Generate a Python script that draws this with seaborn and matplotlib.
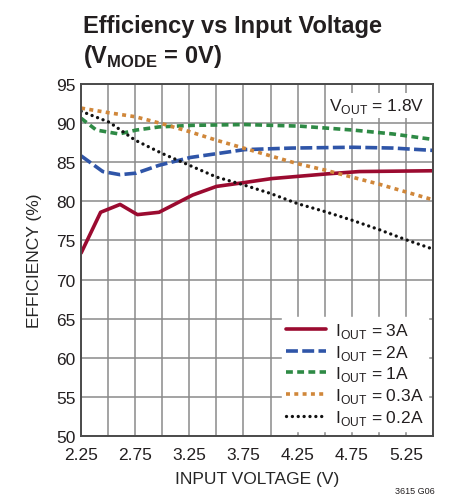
import numpy as np
import pandas as pd
import matplotlib
matplotlib.use("Agg")
import matplotlib.pyplot as plt
import seaborn as sns

# ---------------------------------------------------------
# DADOS
# ---------------------------------------------------------
vin_3a = [2.25, 2.43, 2.61, 2.77, 2.97, 3.28, 3.50, 3.76, 4.01, 4.52, 4.82, 5.50]
eff_3a = [73.4, 78.6, 79.6, 78.3, 78.6, 80.8, 81.9, 82.4, 82.9, 83.5, 83.8, 83.9]

vin_2a = [2.25, 2.45, 2.61, 2.76, 2.97, 3.26, 3.51, 3.76, 4.20, 4.76, 5.13, 5.50]
eff_2a = [85.8, 83.8, 83.4, 83.6, 84.6, 85.6, 86.1, 86.6, 86.8, 86.9, 86.8, 86.5]

vin_1a = [2.25, 2.39, 2.60, 2.76, 2.97, 3.28, 3.76, 4.27, 4.76, 5.13, 5.50]
eff_1a = [90.6, 89.1, 88.6, 89.1, 89.5, 89.7, 89.8, 89.6, 89.1, 88.6, 87.9]

vin_03a = [2.25, 2.51, 2.75, 3.00, 3.25, 3.50, 3.75, 4.00, 4.25, 4.50, 4.75, 5.00, 5.25, 5.50]
eff_03a = [91.9, 91.3, 90.8, 89.9, 88.9, 87.8, 86.8, 85.8, 84.8, 84.0, 83.1, 82.2, 81.2, 80.2]

vin_02a = [2.25, 2.51, 2.75, 3.00, 3.25, 3.50, 3.75, 4.00, 4.25, 4.50, 4.75, 5.00, 5.25, 5.50]
eff_02a = [91.5, 90.1, 87.8, 86.1, 84.6, 83.1, 82.1, 81.0, 79.7, 78.7, 77.6, 76.4, 75.1, 73.9]

rotulos = ["3A", "2A", "1A", "0.3A", "0.2A"]
x_grid = [2.25, 2.5, 2.75, 3.0, 3.25, 3.5, 3.75, 4.0, 4.25, 4.5, 4.75, 5.0, 5.25, 5.5]
x_ticks = [2.25, 2.75, 3.25, 3.75, 4.25, 4.75, 5.25]
y_ticks = [50, 55, 60, 65, 70, 75, 80, 85, 90, 95]

# ---------------------------------------------------------
# ESTILO
# ---------------------------------------------------------
sns.set_theme(style="white")
plt.rcParams['font.family'] = ['Liberation Sans', 'DejaVu Sans']
plt.rcParams['text.color'] = '#231f20'

fig = plt.figure(figsize=(4.69, 5.02), dpi=100)
ax = fig.add_axes([0.173, 0.129, 0.750, 0.702])

# (x, y, cor, dashes em unidades de lw, lw)
series = [
    (vin_3a, eff_3a, '#9b0b30', None, 2.6),
    (vin_2a, eff_2a, '#2f55a8', (3.3, 1.2), 2.6),
    (vin_1a, eff_1a, '#2e8a45', (1.9, 1.2), 2.6),
    (vin_03a, eff_03a, '#d0873a', (1.1, 1.2), 2.6),
    (vin_02a, eff_02a, '#111111', (0.01, 1.75), 2.4),
]

for (xs, ys, cor, dash, lw), rot in zip(series, rotulos):
    sns.lineplot(x=xs, y=ys, ax=ax, color=cor, lw=lw,
                 label=r'I$_{\mathregular{OUT}}$ = ' + rot)
    linha = ax.lines[-1]
    if dash is not None:
        linha.set_dashes(dash)
        if dash[0] < 0.5:
            linha.set_dash_capstyle('round')

ax.set_xlim(2.25, 5.5)
ax.set_ylim(50, 95)
ax.set_xticks(x_grid)
ax.set_xticklabels([f"{v:.2f}" if v in x_ticks else "" for v in x_grid])
ax.set_yticks(y_ticks)
ax.set_yticklabels([str(v) for v in y_ticks])
ax.tick_params(axis='both', length=0, labelsize=12.5, colors='#231f20')
ax.tick_params(axis='x', pad=8)
ax.tick_params(axis='y', pad=4)
ax.grid(True, color='#8a8a8a', lw=1.1)
for sp in ax.spines.values():
    sp.set_color('#4a4a4a')
    sp.set_linewidth(1.4)

ax.set_xlabel('INPUT VOLTAGE (V)', fontsize=12.5, labelpad=6)
ax.set_ylabel('EFFICIENCY (%)', fontsize=12.5, labelpad=10)

leg = ax.legend(loc='lower right', fontsize=12.5, frameon=True, fancybox=False,
                handlelength=2.3, handletextpad=0.5, labelspacing=0.15,
                borderpad=0.25, borderaxespad=0.3)
leg.get_frame().set_facecolor('white')
leg.get_frame().set_edgecolor('white')
leg.get_frame().set_alpha(1)

ax.text(0.975, 0.965, r'V$_{\mathregular{OUT}}$ = 1.8V', transform=ax.transAxes,
        ha='right', va='top', fontsize=12.5,
        bbox=dict(facecolor='white', edgecolor='none', pad=2))

fig.text(0.177, 0.934, 'Efficiency vs Input Voltage', fontsize=17,
         fontweight='bold', ha='left', va='baseline')
fig.text(0.177, 0.875, r'(V$_{\mathregular{MODE}}$ = 0V)', fontsize=17,
         fontweight='bold', ha='left', va='baseline')
fig.text(0.885, 0.012, '3615 G06', fontsize=6.5, ha='center', va='bottom')

plt.savefig('out.png', dpi=100)
